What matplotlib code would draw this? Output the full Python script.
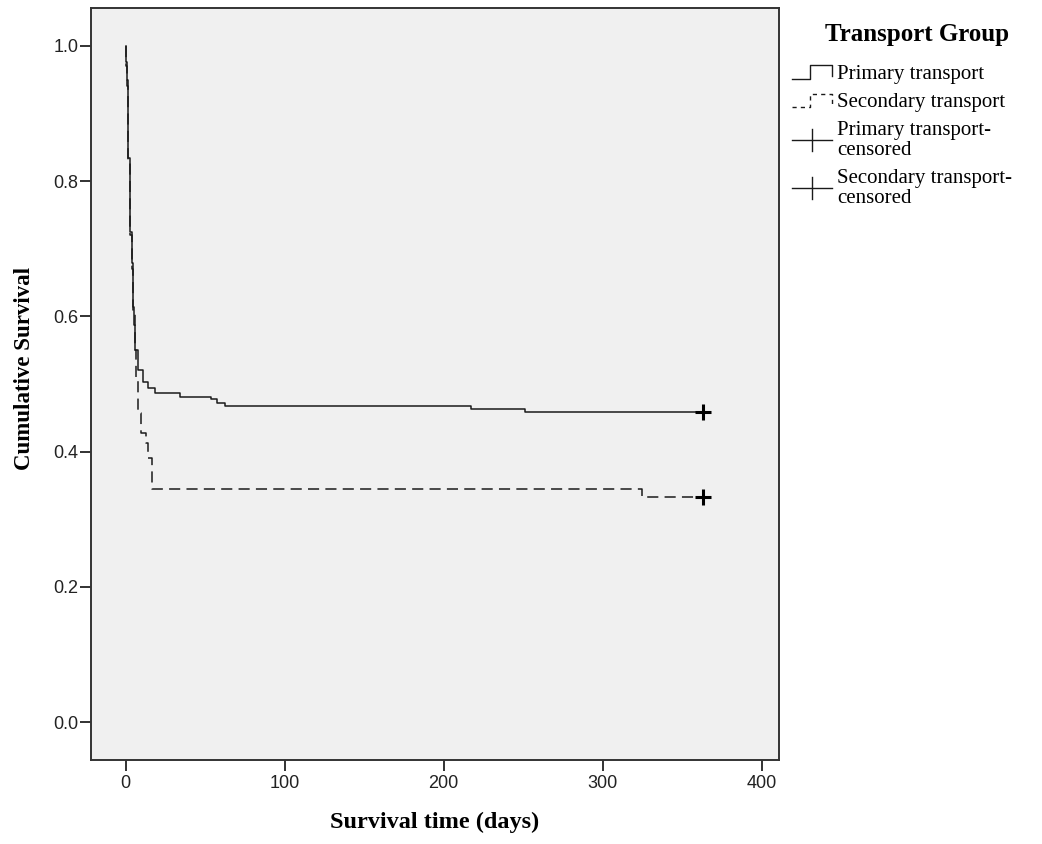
import matplotlib
matplotlib.use("Agg")
import matplotlib.pyplot as plt
from matplotlib.lines import Line2D
from matplotlib.legend_handler import HandlerBase

# ---- data ----
primary_t = [0, 0.3, 0.9, 1.6, 2.8, 4.1, 4.7, 5.3, 6.0, 7.9, 11.0, 14.0, 18.6, 34, 54, 57.5, 62.6, 217, 251, 363]
primary_s = [1.0, 0.976, 0.95, 0.834, 0.725, 0.679, 0.614, 0.587, 0.55, 0.521, 0.503, 0.494, 0.487, 0.481, 0.478, 0.472, 0.467, 0.463, 0.459, 0.459]

secondary_t = [0, 0.4, 1.0, 1.7, 2.9, 4.2, 4.8, 6.0, 6.6, 7.9, 9.8, 13.0, 14.0, 16.7, 325, 363]
secondary_s = [1.0, 0.97, 0.94, 0.83, 0.72, 0.67, 0.61, 0.55, 0.51, 0.457, 0.428, 0.413, 0.39, 0.345, 0.333, 0.333]

censor_t = [363, 363]
censor_s = [0.459, 0.333]

legend_title = "Transport Group"
series_labels = ["Primary transport", "Secondary transport",
                 "Primary transport-\ncensored", "Secondary transport-\ncensored"]
xticks = [0, 100, 200, 300, 400]
yticks = [0.0, 0.2, 0.4, 0.6, 0.8, 1.0]

plt.rcParams['lines.scale_dashes'] = False

W, H = 1042, 844
fig = plt.figure(figsize=(W / 100, H / 100), dpi=100)
ax = fig.add_axes([91 / W, 1 - 760 / H, (779 - 91) / W, (760 - 8) / H])
ax.set_facecolor('#f0f0f0')

lw = 1.1
p_line, = ax.step(primary_t, primary_s, where='post', color='#1a1a1a', lw=lw)
s_line, = ax.step(secondary_t, secondary_s, where='post', color='#1a1a1a', lw=lw,
                  linestyle=(0, (8, 4.5)))
c_mark, = ax.plot(censor_t, censor_s, linestyle='none', marker='+', color='black',
                  markersize=11, markeredgewidth=2.2)

ax.set_xlim(-21.7, 411)
ax.set_ylim(-0.056, 1.056)
ax.set_xticks(xticks)
ax.set_yticks(yticks)
ax.set_xticklabels([str(v) for v in xticks])
ax.set_yticklabels([f"{v:.1f}" for v in yticks])
ax.tick_params(direction='out', length=8, width=1.3, colors='#222222', labelsize=13)
ax.tick_params(axis='y', pad=1.0)
ax.tick_params(axis='x', pad=2.5)
for lab in ax.get_xticklabels() + ax.get_yticklabels():
    lab.set_family('Liberation Sans')
    lab.set_color('#222222')
for sp in ax.spines.values():
    sp.set_linewidth(1.4)
    sp.set_color('#333333')

ax.set_xlabel("Survival time (days)", family='Liberation Serif', fontweight='bold',
              fontsize=17.5, va='top', ha='center')
ax.xaxis.set_label_coords(0.5, (760 - 812) / 752)
ax.set_ylabel("Cumulative Survival", family='Liberation Serif', fontweight='bold',
              fontsize=16.5, va='center', ha='center')
ax.yaxis.set_label_coords((25 - 91) / 688, (760 - 368) / 752)


class HandlerStepSym(HandlerBase):
    def __init__(self, dashes=None):
        super().__init__()
        self.dashes = dashes

    def create_artists(self, legend, orig_handle, xdescent, ydescent, width, height,
                       fontsize, trans):
        x0, y0 = -xdescent, -ydescent
        xs = [x0, x0 + 0.45 * width, x0 + 0.45 * width, x0 + width, x0 + width]
        ys = [y0 + 0.0 * height, y0 + 0.0 * height, y0 + 0.9 * height,
              y0 + 0.9 * height, y0 + 0.2 * height]
        ln = Line2D(xs, ys, color='#1a1a1a', lw=1.0, transform=trans)
        if self.dashes:
            ln.set_linestyle((0, self.dashes))
        return [ln]


class HandlerCensor(HandlerBase):
    def create_artists(self, legend, orig_handle, xdescent, ydescent, width, height,
                       fontsize, trans):
        x0, y0 = -xdescent, -ydescent
        yc = y0 + 0.5 * height
        ln = Line2D([x0, x0 + width], [yc, yc], color='#1a1a1a', lw=1.0, transform=trans)
        tk = Line2D([x0 + 0.5 * width, x0 + 0.5 * width],
                    [yc - 0.75 * height, yc + 0.75 * height],
                    color='#1a1a1a', lw=1.0, transform=trans)
        return [ln, tk]


fig.text(917 / W, 1 - 35 / H, legend_title, family='Liberation Serif', fontweight='bold',
         fontsize=18, ha='center', va='center')

c_mark2 = Line2D([], [], color='black')
leg = fig.legend([p_line, s_line, c_mark, c_mark2], series_labels,
                 loc='upper left', bbox_to_anchor=(792 / W, 1 - 64 / H),
                 bbox_transform=fig.transFigure, frameon=False,
                 prop={'family': 'Liberation Serif', 'size': 15},
                 handlelength=1.92, handletextpad=0.25, labelspacing=0.42,
                 borderpad=0, borderaxespad=0,
                 handler_map={p_line: HandlerStepSym(),
                              s_line: HandlerStepSym(dashes=(3, 3)),
                              c_mark: HandlerCensor(),
                              c_mark2: HandlerCensor()})
for t in leg.get_texts():
    t.set_linespacing(1.08)

fig.savefig("out.png", dpi=100, facecolor='white')
